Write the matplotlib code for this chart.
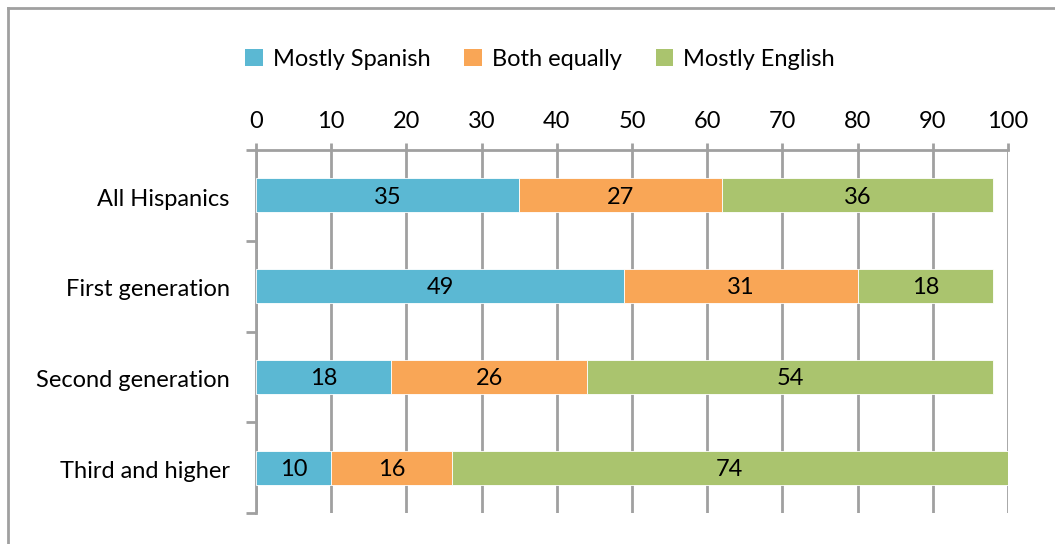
import matplotlib
matplotlib.use("Agg")
import matplotlib.pyplot as plt
from matplotlib.lines import Line2D
from matplotlib.patches import Patch

categories = ["All Hispanics", "First generation", "Second generation", "Third and higher"]
series_names = ["Mostly Spanish", "Both equally", "Mostly English"]
mostly_spanish = [35, 49, 18, 10]
both_equally = [27, 31, 26, 16]
mostly_english = [36, 18, 54, 74]
x_ticks = [0, 10, 20, 30, 40, 50, 60, 70, 80, 90, 100]

colors = ["#5BB8D3", "#F9A656", "#AAC46E"]
grid_color = "#A0A0A0"
fs = 17

plt.rcParams["font.family"] = ["Lato", "DejaVu Sans"]

fig = plt.figure(figsize=(10.55, 5.44), dpi=100)
ax = fig.add_axes([256 / 1055, 1 - 513 / 544, (1008 - 256) / 1055, (513 - 150) / 544])

# Outer frame (left and top edges)
fig.add_artist(Line2D([8 / 1055, 8 / 1055], [0, 1 - 8 / 544], transform=fig.transFigure,
                      color=grid_color, lw=2))
fig.add_artist(Line2D([8 / 1055, 1], [1 - 8 / 544, 1 - 8 / 544], transform=fig.transFigure,
                      color=grid_color, lw=2))

y = list(range(len(categories)))
left = [0] * len(categories)
for vals, color, name in zip([mostly_spanish, both_equally, mostly_english], colors, series_names):
    ax.barh(y, vals, left=left, height=0.375, color=color, edgecolor="white",
            linewidth=0.6, label=name, zorder=3)
    for yi, l, v in zip(y, left, vals):
        ax.text(l + v / 2, yi + 0.02, str(v), ha="center", va="center", fontsize=fs,
                color="black", zorder=4)
    left = [a + b for a, b in zip(left, vals)]

ax.set_xlim(0, 100)
ax.set_ylim(len(categories) - 0.5, -0.5)
ax.set_xticks(x_ticks)
ax.xaxis.tick_top()
ax.set_yticks([i - 0.5 for i in range(len(categories) + 1)], minor=False)
ax.set_yticklabels([])
ax.set_yticks([i + 0.02 for i in y], minor=True)
ax.set_yticklabels(categories, minor=True)

ax.tick_params(axis="x", which="major", length=5, width=2, color=grid_color,
               labelsize=fs, pad=8)
ax.tick_params(axis="y", which="major", length=7, width=2, color=grid_color)
ax.tick_params(axis="y", which="minor", length=0, labelsize=fs, pad=19)

ax.grid(axis="x", color=grid_color, lw=2, zorder=1)
ax.grid(axis="y", visible=False)
for side in ["right", "bottom"]:
    ax.spines[side].set_visible(False)
for side in ["left", "top"]:
    ax.spines[side].set_color(grid_color)
    ax.spines[side].set_linewidth(2)

handles = [Patch(facecolor=c, edgecolor="none") for c in colors]
fig.legend(handles, series_names, loc="center", bbox_to_anchor=(540 / 1055, 1 - 59 / 544),
           ncol=3, frameon=False, fontsize=fs, handlelength=0.75, handleheight=0.75,
           handletextpad=0.4, columnspacing=1.45)

fig.savefig("out.png", dpi=100)
